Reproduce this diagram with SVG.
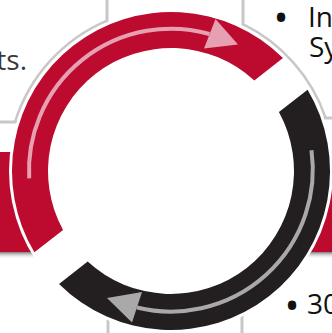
<svg xmlns="http://www.w3.org/2000/svg" width="332" height="333" viewBox="0 0 332 333">
<defs>
<style>
.box{fill:#fff;stroke:#c8c8c8;stroke-width:3}
.bar{fill:#bd0a2f}
.edge{fill:none;stroke:#c8c8c8;stroke-width:2.5}
.txt{font-family:"Open Sans","Liberation Sans",sans-serif;font-size:28px;fill:#111}
.bul{font-family:"Open Sans","Liberation Sans",sans-serif;font-size:40px;fill:#111}
.red{fill:#bd0a2f}
.blk{fill:#231f20}
.pinkline{fill:none;stroke:#e6a0b1;stroke-width:4}
.greyline{fill:none;stroke:#a9a9a9;stroke-width:4}
</style>
<linearGradient id="sh" x1="0" y1="0" x2="0" y2="1">
<stop offset="0" stop-color="#7d7d7d"/>
<stop offset="1" stop-color="#ffffff" stop-opacity="0"/>
</linearGradient>
</defs>
<rect width="332" height="333" fill="#fff"/>
<g id="box-top-left"><rect class="box" x="-10" y="-10" width="117" height="132"/>
<text class="txt" x="27" y="70" text-anchor="end" style="fill:#3a3a3a">ts.</text></g>
<g id="box-top-right"><rect class="box" x="243" y="-10" width="100" height="128"/>
<text class="bul" x="281" y="32" text-anchor="middle">•</text>
<text class="txt" x="308" y="27">In</text>
<text class="txt" x="309" y="57">Sy</text></g>
<g id="box-bottom-left"><rect class="box" x="-10" y="250" width="118" height="100"/>
<rect class="bar" x="-10" y="152" width="130" height="100"/>
<rect x="-10" y="252" width="130" height="7" fill="url(#sh)"/></g>
<g id="box-bottom-right"><rect class="box" x="242" y="250" width="100" height="100"/>
<rect class="bar" x="212" y="152" width="130" height="100"/>
<rect x="212" y="252" width="130" height="7" fill="url(#sh)"/>
<text class="bul" x="292" y="319.5" text-anchor="middle">•</text>
<text class="txt" x="307" y="314">30</text></g>
<g id="cycle">
<circle cx="171" cy="171" r="162" fill="#fff"/>
<path class="edge" d="M107 20.55 A163.5 163.5 0 0 0 15.02 122"/>
<path class="edge" d="M243 24.2 A163.5 163.5 0 0 1 325.67 118"/>
</g>
<g id="connectors">
<path id="arc-red" class="red" d="M34.39 252.36 A159 159 0 0 1 282.99 58.12 L254.32 80.52 A123 123 0 0 0 63.06 229.96 Z"/>
<path id="arc-black" class="blk" d="M307.61 89.64 A159 159 0 0 1 59.01 283.88 L87.68 261.48 A123 123 0 0 0 278.94 112.04 Z"/>
<path class="pinkline" d="M29.19 178.43 A142 142 0 0 1 209.5 34"/>
<polygon fill="#e6a0b1" points="215.5,19 204,48.5 238,44.5"/>
<path class="greyline" d="M311.48 150.25 A142 142 0 0 1 137 307.5"/>
<polygon fill="#a9a9a9" points="142,292 132,322.5 107,298"/>
</g>
</svg>
